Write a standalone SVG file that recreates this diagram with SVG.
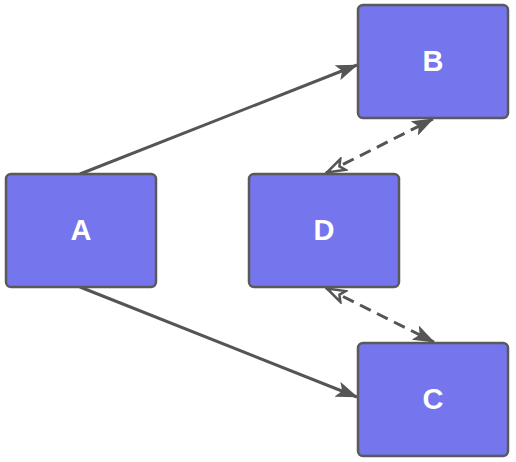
<svg xmlns="http://www.w3.org/2000/svg" width="516" height="462" viewBox="0 0 516 462">
<style>
.node rect{fill:#7575ee;stroke:#5a5a5a;stroke-width:2.5}
.node text{fill:#fff;font-family:"Liberation Sans",Arial,sans-serif;font-weight:bold;font-size:29px;text-anchor:middle;dominant-baseline:central}
.edge{stroke:#555;stroke-width:3;fill:none}
.dash{stroke-dasharray:12,7}
</style>
<defs>
<marker id="fa" viewBox="0 0 22 16" refX="21" refY="8" markerWidth="22" markerHeight="16" markerUnits="userSpaceOnUse" orient="auto">
<path d="M0,0 L22,8 L0,16 L5,8 Z" fill="#555"/>
</marker>
<marker id="oa" viewBox="0 0 22 16" refX="21" refY="8" markerWidth="22" markerHeight="16" markerUnits="userSpaceOnUse" orient="auto-start-reverse">
<path d="M2,2 L20,8 L2,14 L6,8 Z" fill="#fff" stroke="#555" stroke-width="2.5"/>
</marker>
</defs>
<g id="edges">
<line class="edge" x1="80" y1="174" x2="357" y2="65" marker-end="url(#fa)"/>
<line class="edge" x1="80" y1="287" x2="357" y2="397" marker-end="url(#fa)"/>
<line class="edge dash" x1="326" y1="173" x2="433" y2="119" marker-start="url(#oa)" marker-end="url(#fa)"/>
<line class="edge dash" x1="326" y1="288" x2="434" y2="342" marker-start="url(#oa)" marker-end="url(#fa)"/>
</g>
<g id="A" class="node"><rect x="6" y="174" width="150" height="113" rx="5"/><text x="81" y="230">A</text></g>
<g id="B" class="node"><rect x="358" y="5" width="150" height="113" rx="5"/><text x="433" y="61">B</text></g>
<g id="D" class="node"><rect x="249" y="174" width="150" height="113" rx="5"/><text x="324" y="230">D</text></g>
<g id="C" class="node"><rect x="358" y="343" width="150" height="113" rx="5"/><text x="433" y="399">C</text></g>
</svg>
